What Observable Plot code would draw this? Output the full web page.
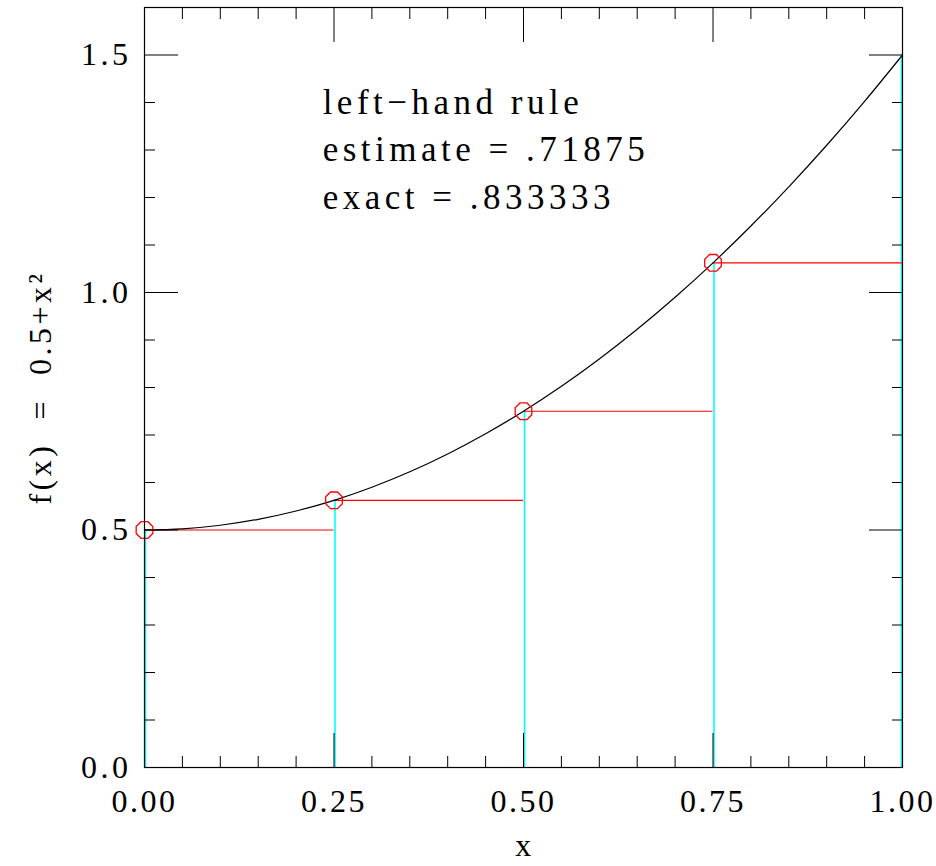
<!DOCTYPE html>
<html><head><meta charset="utf-8">
<script src="https://cdn.jsdelivr.net/npm/d3@7"></script>
<script src="https://cdn.jsdelivr.net/npm/@observablehq/plot@0.6"></script>
<style>
body{margin:0;background:#fff}
#chart svg text{letter-spacing:3.5px}
#chart svg g.xlabels text{letter-spacing:2.5px}
#chart svg g.notes text{letter-spacing:4.5px}
</style>
</head><body><div id="chart"></div>
<script>
// curve f(x) = 0.5 + x^2 read at 0.05 steps
const curveX = [0,0.05,0.1,0.15,0.2,0.25,0.3,0.35,0.4,0.45,0.5,0.55,0.6,0.65,0.7,0.75,0.8,0.85,0.9,0.95,1];
const curveY = [0.5,0.5025,0.51,0.5225,0.54,0.5625,0.59,0.6225,0.66,0.7025,0.75,0.8025,0.86,0.9225,0.99,1.0625,1.14,1.2225,1.31,1.4025,1.5];
// sample points (cyan verticals)
const sampleX = [0,0.25,0.5,0.75,1];
const sampleY = [0.5,0.5625,0.75,1.0625,1.5];
// left-hand rectangles
const rectLeft = [0,0.25,0.5,0.75];
const rectRight = [0.25,0.5,0.75,1];
const rectHeight = [0.5,0.5625,0.75,1.0625];
// ticks
const xMajor = [0,0.25,0.5,0.75,1];
const xMinor = [0.05,0.1,0.15,0.2,0.3,0.35,0.4,0.45,0.55,0.6,0.65,0.7,0.8,0.85,0.9,0.95];
const yMajor = [0,0.5,1,1.5];
const yMinor = [0.1,0.2,0.3,0.4,0.6,0.7,0.8,0.9,1.1,1.2,1.3,1.4];
const xTickLabels = ["0.00","0.25","0.50","0.75","1.00"];
const yTickLabels = ["0.0","0.5","1.0","1.5"];
const notes = ["left\u2212hand rule","estimate = .71875","exact = .833333"];
const noteY = [1.4,1.3,1.2];
const xLabel = "x";
const yLabel = "f(x)  =  0.5+x\u00B2";

const curve = curveX.map((x,i)=>({x, y: curveY[i]}));
const samples = sampleX.map((x,i)=>({x, y: sampleY[i]}));
const rects = rectLeft.map((l,i)=>({l, r: rectRight[i], h: rectHeight[i]}));

const octagon = {
  draw(context, size) {
    const r = Math.sqrt(size / Math.PI);
    for (let k = 0; k < 8; k++) {
      const a = Math.PI/8 + k*Math.PI/4;
      const px = r*Math.cos(a), py = r*Math.sin(a);
      if (k === 0) context.moveTo(px, py); else context.lineTo(px, py);
    }
    context.closePath();
  }
};

const chart = Plot.plot({
  width: 936, height: 866,
  marginLeft: 144, marginRight: 34, marginTop: 7, marginBottom: 99,
  x: {domain: [0,1]},
  y: {domain: [0,1.6]},
  style: {fontFamily: "'Liberation Serif', serif", fontSize: "32px", background: "white", color: "black"},
  marks: [
    Plot.ruleX(samples.slice(0,4), {x: "x", y1: 0, y2: "y", stroke: "#00ffff", strokeWidth: 1.6, dx: 1}),
    Plot.ruleX(samples.slice(4), {x: "x", y1: 0, y2: "y", stroke: "#00ffff", strokeWidth: 1.6, dx: -1}),
    Plot.ruleY(rects, {y: "h", x1: "l", x2: "r", stroke: "#ff0000", strokeWidth: 1.2}),
    Plot.line(curve, {x: "x", y: "y", curve: "catmull-rom", stroke: "black", strokeWidth: 1.2}),
    Plot.dot(samples.slice(0,4), {x: "x", y: "y", symbol: octagon, r: 9, stroke: "#ff0000", fill: "none", strokeWidth: 1.3}),
    Plot.axisX(xMajor, {anchor: "bottom", tickSize: -34, fill: "none", label: null}),
    Plot.axisX(xMajor, {anchor: "top", tickSize: -34, fill: "none", label: null}),
    Plot.axisX(xMinor, {anchor: "bottom", tickSize: -11, fill: "none", label: null}),
    Plot.axisX(xMinor, {anchor: "top", tickSize: -11, fill: "none", label: null}),
    Plot.axisY(yMajor, {anchor: "left", tickSize: -34, fill: "none", label: null}),
    Plot.axisY(yMajor, {anchor: "right", tickSize: -34, fill: "none", label: null}),
    Plot.axisY(yMinor, {anchor: "left", tickSize: -11, fill: "none", label: null}),
    Plot.axisY(yMinor, {anchor: "right", tickSize: -11, fill: "none", label: null}),
    Plot.axisX(xMajor, {anchor: "bottom", tickSize: 0, tickPadding: 22, stroke: "none", tickFormat: (d,i)=>xTickLabels[i], label: null, className: "xlabels"}),
    Plot.axisY(yMajor, {anchor: "left", tickSize: 0, tickPadding: 13, stroke: "none", tickFormat: (d,i)=>yTickLabels[i], label: null}),
    Plot.frame({stroke: "black", strokeWidth: 1.2}),
    Plot.text(notes, {x: 0.235, y: (d,i)=>noteY[i], text: d=>d, textAnchor: "start", fontSize: 35, className: "notes"}),
    Plot.text([xLabel], {frameAnchor: "bottom", dy: 88, text: d=>d, fontSize: 32, dx: 1.5}),
    Plot.text([yLabel], {frameAnchor: "left", dx: -104, rotate: -90, textAnchor: "middle", text: d=>d, fontSize: 32})
  ]
});
document.getElementById("chart").appendChild(chart);
</script>
</body></html>
